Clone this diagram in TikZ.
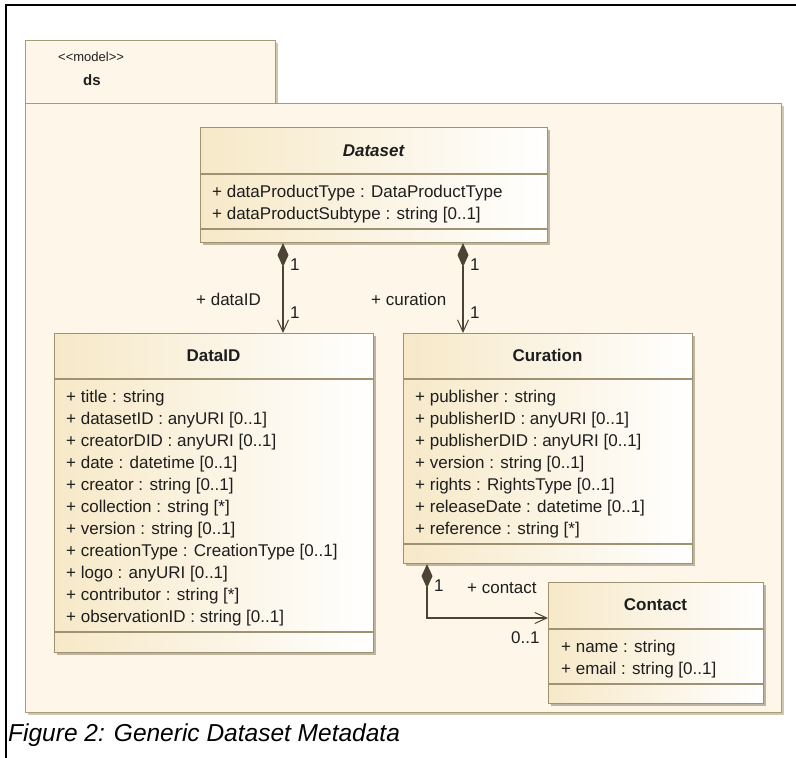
\documentclass[tikz,border=0pt]{standalone}
\usepackage{fontspec}
\setmainfont{Liberation Sans}
\usetikzlibrary{arrows.meta}
\definecolor{pkgfill}{HTML}{FEF7E9}
\definecolor{pkgline}{HTML}{A89C78}
\definecolor{pkgshadow}{HTML}{CFC7AE}
\definecolor{clsleft}{HTML}{F7E9C8}
\definecolor{clsline}{HTML}{9E9272}
\definecolor{clsshadow}{HTML}{BDB5A0}
\definecolor{txt}{HTML}{1E1E1E}
\definecolor{conn}{HTML}{4E4332}
\newcommand\attrfont{\fontsize{17}{22}\selectfont}
\newcommand\headfont{\fontsize{17}{22}\selectfont\bfseries}
\tikzset{
  cls/.style={draw=clsline, line width=1.1pt, left color=clsleft, right color=white, inner sep=0pt, anchor=north west},
  clsshad/.style={fill=clsshadow, draw=none},
  divider/.style={draw=clsline, line width=1.1pt},
  attr/.style={anchor=north west, inner sep=0pt, align=left, text=txt, font=\attrfont},
  head/.style={anchor=base, inner sep=0pt, text=txt, font=\headfont},
  lbl/.style={anchor=base west, inner sep=0pt, text=txt, font=\attrfont},
  assoc/.style={draw=conn, line width=1.2pt},
  comp/.style={assoc, {Diamond[length=24pt,width=11pt,fill=conn]}-{Straight Barb[length=12pt,width=11pt,line width=1pt]}},
}
\begin{document}
\begin{tikzpicture}[x=1pt,y=-1pt]
\useasboundingbox (0,0) rectangle (796,758);
% outer frame
\draw[black, line width=1.5pt] (796,5) -- (6,5) -- (6,758);
% package
\fill[pkgshadow] (28,106) rectangle (784,715);
\fill[pkgshadow] (28,43) rectangle (278,106);
\node[draw=pkgline, fill=pkgfill, line width=1.1pt, minimum width=250pt, minimum height=63pt, inner sep=0pt, anchor=north west] (tab) at (25,40) {};
\node[draw=pkgline, fill=pkgfill, line width=1.1pt, minimum width=756pt, minimum height=609pt, inner sep=0pt, anchor=north west] (pkg) at (25,103) {};
\node[anchor=base west, inner sep=0pt, font=\fontsize{13}{15}\selectfont, text=txt] (stereo) at (58,61.5) {<{}<model>{}>};
\node[anchor=base west, inner sep=0pt, font=\fontsize{15}{17}\selectfont\bfseries, text=txt] (pkgname) at (83,85) {ds};
% Dataset
\fill[clsshad] (203,130) rectangle (550,245);
\node[cls, minimum width=347pt, minimum height=115pt] (dataset) at (200,127) {};
\coordinate (d1) at (0,174); \coordinate (d2) at (0,229);
\draw[divider] (dataset.west |- d1) -- (dataset.east |- d1);
\draw[divider] (dataset.west |- d2) -- (dataset.east |- d2);
\node[head, font=\headfont\itshape] (datasetname) at (373.5,156) {Dataset};
\node[attr] (datasetattr) at (212,181.6) {\strut+ dataProductType : DataProductType\\+ dataProductSubtype : string [0..1]};
% DataID
\fill[clsshad] (57,336) rectangle (376,655);
\node[cls, minimum width=319pt, minimum height=319pt] (dataid) at (54,333) {};
\coordinate (i1) at (0,379); \coordinate (i2) at (0,632);
\draw[divider] (dataid.west |- i1) -- (dataid.east |- i1);
\draw[divider] (dataid.west |- i2) -- (dataid.east |- i2);
\node[head] (dataidname) at (213.5,361) {DataID};
\node[attr] (dataidattr) at (66,386.6) {\strut+ title : string\\+ datasetID : anyURI [0..1]\\+ creatorDID : anyURI [0..1]\\+ date : datetime [0..1]\\+ creator : string [0..1]\\+ collection : string [*]\\+ version : string [0..1]\\+ creationType : CreationType [0..1]\\+ logo : anyURI [0..1]\\+ contributor : string [*]\\+ observationID : string [0..1]};
% Curation
\fill[clsshad] (406,336) rectangle (695,566);
\node[cls, minimum width=289pt, minimum height=230pt] (curation) at (403,333) {};
\coordinate (c1) at (0,379); \coordinate (c2) at (0,544);
\draw[divider] (curation.west |- c1) -- (curation.east |- c1);
\draw[divider] (curation.west |- c2) -- (curation.east |- c2);
\node[head] (curationname) at (547.5,361) {Curation};
\node[attr] (curationattr) at (415,386.6) {\strut+ publisher : string\\+ publisherID : anyURI [0..1]\\+ publisherDID : anyURI [0..1]\\+ version : string [0..1]\\+ rights : RightsType [0..1]\\+ releaseDate : datetime [0..1]\\+ reference : string [*]};
% Contact
\fill[clsshad] (551,585) rectangle (766,706);
\node[cls, minimum width=215pt, minimum height=121pt] (contact) at (548,582) {};
\coordinate (k1) at (0,629); \coordinate (k2) at (0,684);
\draw[divider] (contact.west |- k1) -- (contact.east |- k1);
\draw[divider] (contact.west |- k2) -- (contact.east |- k2);
\node[head] (contactname) at (655.5,610) {Contact};
\node[attr] (contactattr) at (561,636.6) {\strut+ name : string\\+ email : string [0..1]};
% connectors
\coordinate (lx) at (283,0);
\coordinate (rx) at (463,0);
\coordinate (cx) at (427,0);
\coordinate (cy) at (0,618);
\draw[comp] (dataset.south -| lx) -- (dataid.north -| lx);
\draw[comp] (dataset.south -| rx) -- (curation.north -| rx);
\draw[comp] (curation.south -| cx) |- (contact.west |- cy);
% labels
\node[lbl] (l1a) at (290,270) {1};
\node[lbl] (l1b) at (290,318) {1};
\node[lbl] (ldataid) at (196,305) {+ dataID};
\node[lbl] (l2a) at (470,270) {1};
\node[lbl] (l2b) at (470,318) {1};
\node[lbl] (lcuration) at (371,305) {+ curation};
\node[lbl] (l3a) at (434,591) {1};
\node[lbl] (lcontact) at (467,593) {+ contact};
\node[lbl] (l3b) at (511,643) {0..1};
% caption
\node[anchor=base west, inner sep=0pt, font=\fontsize{24.5}{28}\selectfont\itshape, text=black] (caption) at (8,741) {Figure 2: Generic Dataset Metadata};
\end{tikzpicture}
\end{document}
